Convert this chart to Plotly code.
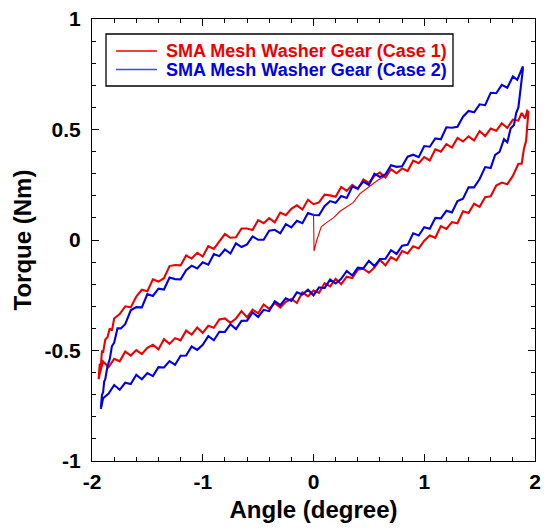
import plotly.graph_objects as go

# ---------------- data ----------------
series_names = ["SMA Mesh Washer Gear (Case 1)", "SMA Mesh Washer Gear (Case 2)"]

# Case 1 (red): initial loading segment starting at zero angle
red_init_x = [0.00, 0.005, 0.03, 0.07, 0.12, 0.18, 0.24, 0.30, 0.36, 0.42, 0.50, 0.58, 0.65]
red_init_y = [0.12, -0.05, 0.00, 0.06, 0.08, 0.10, 0.13, 0.15, 0.17, 0.21, 0.24, 0.27, 0.29]

# Case 1 (red): upper branch (angle increasing)
red_up_x = [-1.94, -1.93, -1.92, -1.91, -1.90, -1.88, -1.86, -1.84, -1.82, -1.80,
            -1.75, -1.70, -1.65, -1.60, -1.55, -1.50, -1.45, -1.40, -1.35, -1.30,
            -1.25, -1.20, -1.15, -1.10, -1.05, -1.00, -0.95, -0.90, -0.85, -0.80,
            -0.75, -0.70, -0.65, -0.60, -0.55, -0.50, -0.45, -0.40, -0.35, -0.30,
            -0.25, -0.20, -0.15, -0.10, -0.05, 0.00, 0.05, 0.10, 0.15, 0.20,
            0.25, 0.30, 0.35, 0.40, 0.45, 0.50, 0.55, 0.60, 0.65, 0.70,
            0.75, 0.80, 0.85, 0.90, 0.95, 1.00, 1.05, 1.10, 1.15, 1.20,
            1.25, 1.30, 1.35, 1.40, 1.45, 1.50, 1.55, 1.60, 1.65, 1.70,
            1.75, 1.80, 1.85, 1.88, 1.91, 1.93]
red_up_y = [-0.63, -0.56, -0.57, -0.50, -0.51, -0.45, -0.44, -0.40, -0.41, -0.355,
            -0.335, -0.30, -0.305, -0.256, -0.225, -0.232, -0.178, -0.188, -0.173, -0.118,
            -0.113, -0.115, -0.07, -0.084, -0.058, -0.075, -0.028, -0.04, -0.006, 0.027,
            0.01, 0.012, 0.052, 0.052, 0.045, 0.09, 0.076, 0.099, 0.08, 0.124,
            0.112, 0.141, 0.157, 0.138, 0.182, 0.162, 0.17, 0.205, 0.202, 0.196,
            0.24, 0.222, 0.249, 0.23, 0.274, 0.258, 0.29, 0.305, 0.283, 0.32,
            0.302, 0.324, 0.312, 0.359, 0.347, 0.375, 0.36, 0.41, 0.40, 0.434,
            0.418, 0.462, 0.446, 0.469, 0.45, 0.493, 0.47, 0.504, 0.494, 0.528,
            0.507, 0.545, 0.54, 0.575, 0.55, 0.585]

# Case 1 (red): lower branch (angle decreasing)
red_dn_x = [1.94, 1.93, 1.92, 1.90, 1.88, 1.85, 1.80, 1.75, 1.70, 1.65,
            1.60, 1.55, 1.50, 1.45, 1.40, 1.35, 1.30, 1.25, 1.20, 1.15,
            1.10, 1.05, 1.00, 0.95, 0.90, 0.85, 0.80, 0.75, 0.70, 0.65,
            0.60, 0.55, 0.50, 0.45, 0.40, 0.35, 0.30, 0.25, 0.20, 0.15,
            0.10, 0.05, 0.00, -0.05, -0.10, -0.15, -0.20, -0.25, -0.30, -0.35,
            -0.40, -0.45, -0.50, -0.55, -0.60, -0.65, -0.70, -0.75, -0.80, -0.85,
            -0.90, -0.95, -1.00, -1.05, -1.10, -1.15, -1.20, -1.25, -1.30, -1.35,
            -1.40, -1.45, -1.50, -1.55, -1.60, -1.65, -1.70, -1.75, -1.80, -1.85,
            -1.90, -1.93, -1.94]
red_dn_y = [0.58, 0.50, 0.45, 0.412, 0.345, 0.345, 0.29, 0.252, 0.26, 0.246,
            0.198, 0.194, 0.15, 0.164, 0.122, 0.13, 0.076, 0.081, 0.05, 0.063,
            0.01, 0.02, -0.003, -0.038, -0.028, -0.061, -0.05, -0.092, -0.078, -0.115,
            -0.09, -0.125, -0.148, -0.13, -0.134, -0.172, -0.166, -0.20, -0.176, -0.21,
            -0.195, -0.239, -0.229, -0.255, -0.237, -0.285, -0.267, -0.28, -0.306, -0.285,
            -0.311, -0.292, -0.332, -0.315, -0.35, -0.322, -0.355, -0.375, -0.355, -0.359,
            -0.397, -0.388, -0.42, -0.396, -0.428, -0.41, -0.454, -0.444, -0.47, -0.449,
            -0.495, -0.474, -0.488, -0.516, -0.498, -0.523, -0.505, -0.549, -0.538, -0.575,
            -0.55, -0.605, -0.63]

# Case 2 (blue): upper branch (angle increasing)
blue_up_x = [-1.92, -1.91, -1.90, -1.89, -1.88, -1.86, -1.84, -1.82, -1.80, -1.77,
             -1.74, -1.70, -1.65, -1.60, -1.55, -1.50, -1.45, -1.40, -1.35, -1.30,
             -1.25, -1.20, -1.15, -1.10, -1.05, -1.00, -0.95, -0.90, -0.85, -0.80,
             -0.75, -0.70, -0.65, -0.60, -0.55, -0.50, -0.45, -0.40, -0.35, -0.30,
             -0.25, -0.20, -0.15, -0.10, -0.05, 0.00, 0.05, 0.10, 0.15, 0.20,
             0.25, 0.30, 0.35, 0.40, 0.45, 0.50, 0.55, 0.60, 0.65, 0.70,
             0.75, 0.80, 0.85, 0.90, 0.95, 1.00, 1.05, 1.10, 1.15, 1.20,
             1.25, 1.30, 1.35, 1.40, 1.45, 1.50, 1.55, 1.60, 1.65, 1.70,
             1.75, 1.80, 1.84, 1.87, 1.89]
blue_up_y = [-0.76, -0.70, -0.69, -0.64, -0.63, -0.57, -0.54, -0.48, -0.465, -0.40,
             -0.40, -0.381, -0.318, -0.304, -0.305, -0.245, -0.253, -0.22, -0.224, -0.17,
             -0.177, -0.178, -0.137, -0.116, -0.129, -0.101, -0.112, -0.064, -0.073, -0.043,
             -0.061, -0.015, -0.032, -0.02, 0.016, 0.001, 0.001, 0.042, 0.046, 0.03,
             0.072, 0.057, 0.087, 0.076, 0.122, 0.113, 0.112, 0.153, 0.176, 0.168,
             0.199, 0.19, 0.241, 0.234, 0.264, 0.249, 0.30, 0.285, 0.297, 0.338,
             0.331, 0.334, 0.377, 0.386, 0.375, 0.425, 0.422, 0.46, 0.456, 0.51,
             0.508, 0.512, 0.558, 0.584, 0.578, 0.614, 0.61, 0.666, 0.664, 0.702,
             0.689, 0.74, 0.725, 0.765, 0.785]

# Case 2 (blue): lower branch (angle decreasing)
blue_dn_x = [1.89, 1.88, 1.87, 1.86, 1.85, 1.83, 1.81, 1.78, 1.75, 1.72,
             1.68, 1.64, 1.60, 1.55, 1.50, 1.45, 1.40, 1.35, 1.30, 1.25,
             1.20, 1.15, 1.10, 1.05, 1.00, 0.95, 0.90, 0.85, 0.80, 0.75,
             0.70, 0.65, 0.60, 0.55, 0.50, 0.45, 0.40, 0.35, 0.30, 0.25,
             0.20, 0.15, 0.10, 0.05, 0.00, -0.05, -0.10, -0.15, -0.20, -0.25,
             -0.30, -0.35, -0.40, -0.45, -0.50, -0.55, -0.60, -0.65, -0.70, -0.75,
             -0.80, -0.85, -0.90, -0.95, -1.00, -1.05, -1.10, -1.15, -1.20, -1.25,
             -1.30, -1.35, -1.40, -1.45, -1.50, -1.55, -1.60, -1.65, -1.70, -1.75,
             -1.80, -1.85, -1.90, -1.92]
blue_dn_y = [0.77, 0.72, 0.70, 0.64, 0.60, 0.574, 0.52, 0.504, 0.442, 0.456,
             0.399, 0.385, 0.326, 0.33, 0.276, 0.238, 0.238, 0.187, 0.176, 0.125,
             0.132, 0.098, 0.10, 0.051, 0.058, 0.02, 0.03, -0.022, -0.026, -0.063,
             -0.046, -0.085, -0.086, -0.118, -0.094, -0.128, -0.125, -0.161, -0.14, -0.176,
             -0.197, -0.179, -0.218, -0.214, -0.25, -0.225, -0.247, -0.237, -0.276, -0.264,
             -0.295, -0.277, -0.322, -0.316, -0.348, -0.328, -0.365, -0.366, -0.403, -0.381,
             -0.416, -0.415, -0.454, -0.435, -0.474, -0.497, -0.482, -0.523, -0.524, -0.565,
             -0.548, -0.577, -0.575, -0.616, -0.602, -0.63, -0.61, -0.652, -0.646, -0.678,
             -0.656, -0.695, -0.716, -0.765]

x_tickvals = [-2, -1, 0, 1, 2]
x_ticktext = ["-2", "-1", "0", "1", "2"]
y_tickvals = [-1, -0.5, 0, 0.5, 1]
y_ticktext = ["-1", "-0.5", "0", "0.5", "1"]

assert len(red_up_x) == len(red_up_y) and len(red_dn_x) == len(red_dn_y)
assert len(blue_up_x) == len(blue_up_y) and len(blue_dn_x) == len(blue_dn_y)

RED = "rgb(236,0,0)"
BLUE = "rgb(0,0,225)"
LEG_BLUE = "rgb(70,70,240)"
FONT = "Liberation Sans, Arial, sans-serif"
LW = 2.1

fig = go.Figure()
fig.add_trace(go.Scatter(
    x=red_up_x + red_dn_x, y=red_up_y + red_dn_y, mode="lines",
    line=dict(color=RED, width=LW), name=series_names[0], showlegend=False))
fig.add_trace(go.Scatter(
    x=blue_up_x + blue_dn_x, y=blue_up_y + blue_dn_y, mode="lines",
    line=dict(color=BLUE, width=LW), name=series_names[1], showlegend=False))
fig.add_trace(go.Scatter(
    x=red_init_x, y=red_init_y, mode="lines",
    line=dict(color=RED, width=1.1), showlegend=False))

axis_common = dict(
    showline=True, linecolor="black", linewidth=1, mirror="ticks",
    ticks="inside", ticklen=7, tickwidth=1, tickcolor="black",
    showgrid=False, zeroline=False,
    tickfont=dict(family=FONT, size=21, color="black", weight="bold"),
)

fig.update_xaxes(
    range=[-2, 2], tickvals=x_tickvals, ticktext=x_ticktext,
    minor=dict(ticks="inside", ticklen=4, dtick=0.2, tickcolor="black", showgrid=False),
    title=dict(text="Angle (degree)", font=dict(family=FONT, size=24, color="black", weight="bold"), standoff=8),
    ticklabelstandoff=2,
    **axis_common)
fig.update_yaxes(
    range=[-1, 1], tickvals=y_tickvals, ticktext=y_ticktext,
    minor=dict(ticks="inside", ticklen=4, dtick=0.1, tickcolor="black", showgrid=False),
    title=dict(text="Torque (Nm)", font=dict(family=FONT, size=24, color="black", weight="bold"), standoff=6),
    ticklabelstandoff=6,
    **axis_common)

# legend box drawn in paper coordinates (layout, not data)
legend_colors = [RED, LEG_BLUE]
legend_text_colors = [RED, BLUE]
row_y = [0.9276, 0.8857]
fig.add_shape(type="rect", xref="paper", yref="paper", x0=0.0316, x1=0.8149, y0=0.8484, y1=0.9661,
              line=dict(color="black", width=1.3), fillcolor="white", layer="above")
for name, lc, tc, ry in zip(series_names, legend_colors, legend_text_colors, row_y):
    fig.add_shape(type="line", xref="paper", yref="paper", x0=0.0542, x1=0.1467, y0=ry, y1=ry,
                  line=dict(color=lc, width=1.6), layer="above")
    fig.add_annotation(xref="paper", yref="paper", x=0.1625, y=ry, xanchor="left", yanchor="middle",
                       text=name, showarrow=False,
                       font=dict(family=FONT, size=18, color=tc, weight="bold"))

fig.update_layout(
    width=547, height=531,
    margin=dict(l=92, r=12, t=19, b=70, autoexpand=False),
    paper_bgcolor="white", plot_bgcolor="white",
    showlegend=False,
)

fig.write_html("out.html", config={"displayModeBar": False},
               post_script="document.body.style.margin='0px';")
